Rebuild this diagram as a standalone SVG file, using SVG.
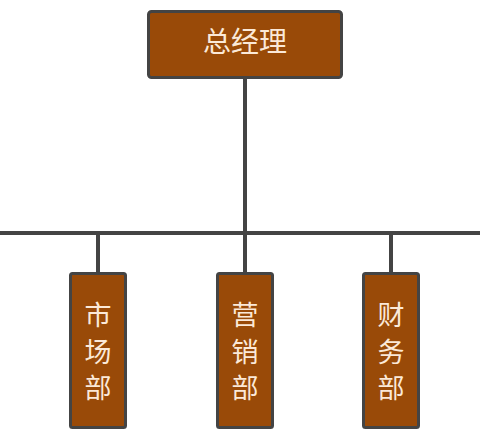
<svg xmlns="http://www.w3.org/2000/svg" width="480" height="434" viewBox="0 0 480 434">
<style>
.box{fill:#994a08;stroke:#444;stroke-width:3}
.t{font-family:"Noto Sans CJK SC","Noto Sans",sans-serif;fill:#fbe9d8;text-anchor:middle;font-size:28px}
.v{font-size:27px}
.ln{stroke:#444;stroke-width:4;fill:none}
</style>
<rect width="480" height="434" fill="#fff"/>
<g id="connectors">
<line class="ln" x1="245" y1="78" x2="245" y2="273"/>
<line class="ln" x1="0" y1="233" x2="480" y2="233"/>
<line class="ln" x1="98" y1="233" x2="98" y2="273"/>
<line class="ln" x1="391" y1="233" x2="391" y2="273"/>
</g>
<g id="gm">
<rect class="box" x="148.5" y="11.5" width="193" height="66" rx="3"/>
<text class="t" x="245" y="52">总经理</text>
</g>
<g id="market">
<rect class="box" x="70.5" y="273.5" width="55" height="154" rx="2"/>
<text class="t v" x="98" y="325">市<tspan x="98" dy="37">场</tspan><tspan x="98" dy="36">部</tspan></text>
</g>
<g id="sales">
<rect class="box" x="217.5" y="273.5" width="55" height="154" rx="2"/>
<text class="t v" x="245" y="325">营<tspan x="245" dy="37">销</tspan><tspan x="245" dy="36">部</tspan></text>
</g>
<g id="finance">
<rect class="box" x="363.5" y="273.5" width="55" height="154" rx="2"/>
<text class="t v" x="391" y="325">财<tspan x="391" dy="37">务</tspan><tspan x="391" dy="36">部</tspan></text>
</g>
</svg>
